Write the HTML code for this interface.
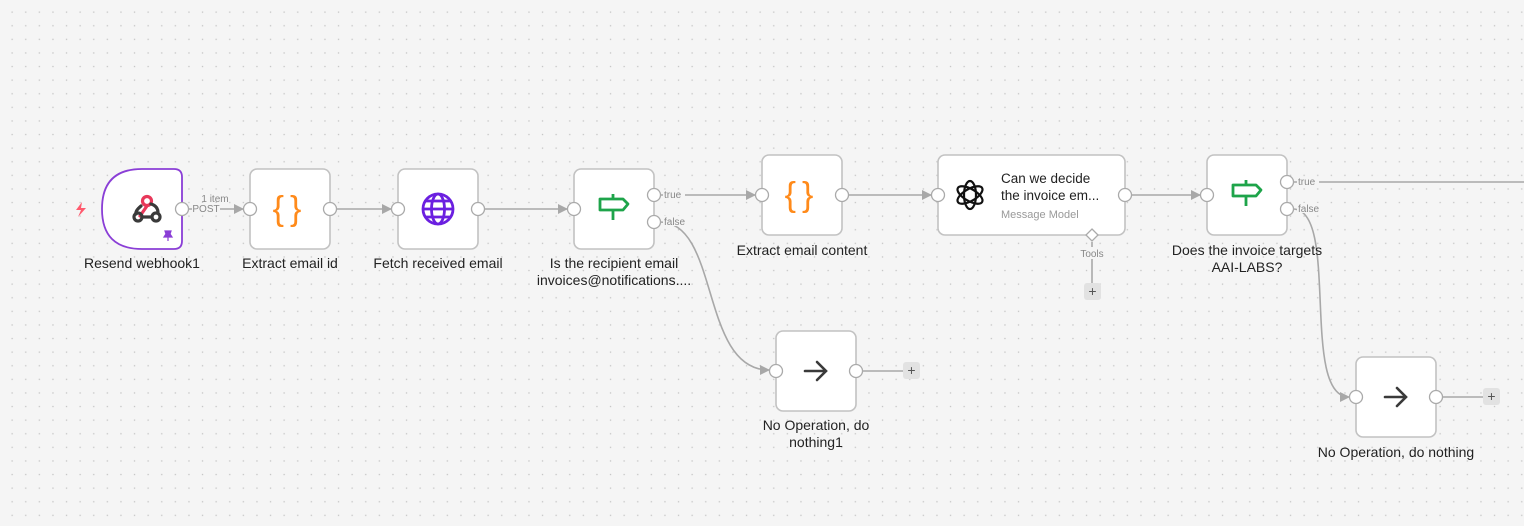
<!DOCTYPE html>
<html><head><meta charset="utf-8"><style>
html,body{margin:0;padding:0;width:1524px;height:526px;overflow:hidden;background:#f5f5f5}
svg{display:block}
text{font-family:"Liberation Sans",sans-serif}
</style></head><body>
<svg width="1524" height="526" viewBox="0 0 1524 526" xmlns="http://www.w3.org/2000/svg">
<defs>
<pattern id="dots" x="0" y="0" width="13.6" height="13.6" patternUnits="userSpaceOnUse">
<rect x="11.5" y="11.5" width="1.3" height="1.3" fill="#c4c4c4"/>
</pattern>
<marker id="ar" markerWidth="10" markerHeight="10" refX="9" refY="5" orient="auto" markerUnits="userSpaceOnUse">
<path d="M0,0 L10,5 L0,10 Z" fill="#a8a8a8"/>
</marker>
</defs>
<rect width="1524" height="526" fill="#f5f5f5"/>
<rect width="1524" height="526" fill="url(#dots)"/>

<g stroke="#a8a8a8" stroke-width="1.6" fill="none">
<path d="M188,209 L243,209" marker-end="url(#ar)"/>
<path d="M336,209 L391,209" marker-end="url(#ar)"/>
<path d="M484,209 L567,209" marker-end="url(#ar)"/>
<path d="M660,195 L755,195" marker-end="url(#ar)"/>
<path d="M660,222 C720,222 700,370 769,370" marker-end="url(#ar)"/>
<path d="M848,195 L931,195" marker-end="url(#ar)"/>
<path d="M1131,195 L1200,195" marker-end="url(#ar)"/>
<path d="M1293,182 L1524,182"/>
<path d="M1293,209 C1340,209 1300,397 1349,397" marker-end="url(#ar)"/>
<path d="M862,371 L904,371"/>
<path d="M1442,397 L1484,397"/>
<path d="M1092,242 L1092,284"/>
</g>

<g font-size="10" fill="#888">
<text x="215" y="202" text-anchor="middle">1 item</text>
<rect x="192" y="203" width="28" height="10" fill="#f5f5f5"/>
<text x="206" y="212" text-anchor="middle">POST</text>
<rect x="663" y="190" width="22" height="10" fill="#f5f5f5"/>
<text x="664" y="198">true</text>
<rect x="663" y="216" width="25" height="10" fill="#f5f5f5"/>
<text x="664" y="225">false</text>
<rect x="1297" y="177" width="22" height="10" fill="#f5f5f5"/>
<text x="1298" y="185">true</text>
<rect x="1297" y="203" width="25" height="10" fill="#f5f5f5"/>
<text x="1298" y="212">false</text>
<rect x="1078" y="247" width="28" height="12" fill="#f5f5f5"/>
<text x="1092" y="257" text-anchor="middle">Tools</text>
</g>

<g>
<rect x="903" y="362" width="17" height="17" rx="3" fill="#e2e2e2"/>
<text x="911.5" y="375" font-size="14" fill="#555" text-anchor="middle">+</text>
<rect x="1483" y="388" width="17" height="17" rx="3" fill="#e2e2e2"/>
<text x="1491.5" y="401" font-size="14" fill="#555" text-anchor="middle">+</text>
<rect x="1084" y="283" width="17" height="17" rx="3" fill="#e2e2e2"/>
<text x="1092.5" y="296" font-size="14" fill="#555" text-anchor="middle">+</text>
</g>

<path d="M82,202 L76,210 L81,210 L78,217 L86,208 L81,208 Z" fill="#ff5a6e"/>

<g fill="#fff" stroke="#c2c2c2" stroke-width="1.6">
<path d="M142,169 L174,169 Q182,169 182,177 L182,241 Q182,249 174,249 L142,249 Q102,249 102,209 Q102,169 142,169 Z" stroke="#8a3ed6" stroke-width="1.8"/>
<rect x="250" y="169" width="80" height="80" rx="7"/>
<rect x="398" y="169" width="80" height="80" rx="7"/>
<rect x="574" y="169" width="80" height="80" rx="7"/>
<rect x="762" y="155" width="80" height="80" rx="7"/>
<rect x="938" y="155" width="187" height="80" rx="7"/>
<rect x="1207" y="155" width="80" height="80" rx="7"/>
<rect x="776" y="331" width="80" height="80" rx="7"/>
<rect x="1356" y="357" width="80" height="80" rx="7"/>
</g>

<g fill="#fff" stroke="#aaa" stroke-width="1.3">
<circle cx="182" cy="209" r="6.5"/>
<circle cx="250" cy="209" r="6.5"/><circle cx="330" cy="209" r="6.5"/>
<circle cx="398" cy="209" r="6.5"/><circle cx="478" cy="209" r="6.5"/>
<circle cx="574" cy="209" r="6.5"/><circle cx="654" cy="195" r="6.5"/><circle cx="654" cy="222" r="6.5"/>
<circle cx="762" cy="195" r="6.5"/><circle cx="842" cy="195" r="6.5"/>
<circle cx="938" cy="195" r="6.5"/><circle cx="1125" cy="195" r="6.5"/>
<circle cx="1207" cy="195" r="6.5"/><circle cx="1287" cy="182" r="6.5"/><circle cx="1287" cy="209" r="6.5"/>
<circle cx="776" cy="371" r="6.5"/><circle cx="856" cy="371" r="6.5"/>
<circle cx="1356" cy="397" r="6.5"/><circle cx="1436" cy="397" r="6.5"/>
<path d="M1092,229 L1098,235 L1092,241 L1086,235 Z"/>
</g>

<g stroke-width="3.2" fill="none" stroke-linecap="round">
<circle cx="147" cy="201" r="4.5" stroke="#e8385a"/>
<path d="M147,206 L140,216" stroke="#e8385a"/>
<circle cx="138" cy="217" r="4" stroke="#3a3a3a"/>
<circle cx="156" cy="217" r="4" stroke="#3a3a3a"/>
<path d="M141,206 Q135,211 136,214" stroke="#3a3a3a"/>
<path d="M142,217 L152,217" stroke="#3a3a3a"/>
<path d="M151,204 Q158,206 158,213" stroke="#3a3a3a"/>
</g>
<path d="M165,231 h6 l-1,3 l2,3 h-8 l2,-3 z M168,237 v4" fill="#8a3ed6" stroke="#8a3ed6" stroke-width="1.2"/>
<text x="290" y="220" font-size="34" fill="#ff8a1a" text-anchor="middle" letter-spacing="6">{}</text>
<text x="802" y="206" font-size="34" fill="#ff8a1a" text-anchor="middle" letter-spacing="6">{}</text>
<g stroke="#6b1fe0" stroke-width="2.8" fill="none">
<circle cx="438" cy="209" r="15"/>
<ellipse cx="438" cy="209" rx="6.5" ry="15"/>
<path d="M423,209 H453 M426,201 H450 M426,217 H450"/>
</g>
<g stroke="#1ea44a" stroke-width="2.8" fill="none" stroke-linejoin="round">
<path d="M600,199 H623 L628,204 L623,210 H600 Z M613,210 V220 M613,194 V199"/>
<path d="M1233,185 H1256 L1261,190 L1256,196 H1233 Z M1246,196 V206 M1246,180 V185"/>
</g>
<g stroke="#111" stroke-width="2.2" fill="none">
<ellipse cx="970" cy="195" rx="6" ry="14"/>
<ellipse cx="970" cy="195" rx="6" ry="14" transform="rotate(60 970 195)"/>
<ellipse cx="970" cy="195" rx="6" ry="14" transform="rotate(120 970 195)"/>
</g>
<g stroke="#3a3a3a" stroke-width="2.6" fill="none" stroke-linecap="round">
<path d="M805,371 H826 M817,362 L826,371 L817,380"/>
<path d="M1385,397 H1406 M1397,388 L1406,397 L1397,406"/>
</g>

<text x="1001" y="183" font-size="13.5" fill="#222">Can we decide</text>
<text x="1001" y="200" font-size="13.5" fill="#222">the invoice em...</text>
<text x="1001" y="218" font-size="11" fill="#999">Message Model</text>

<g font-size="14" fill="#222" text-anchor="middle">
<text x="142" y="268">Resend webhook1</text>
<text x="290" y="268">Extract email id</text>
<text x="438" y="268">Fetch received email</text>
<text x="614" y="268">Is the recipient email</text>
<text x="614" y="285">invoices@notifications....</text>
<text x="802" y="255">Extract email content</text>
<text x="1247" y="255">Does the invoice targets</text>
<text x="1247" y="272">AAI-LABS?</text>
<text x="816" y="430">No Operation, do</text>
<text x="816" y="447">nothing1</text>
<text x="1396" y="457">No Operation, do nothing</text>
</g>
</svg>
</body></html>
